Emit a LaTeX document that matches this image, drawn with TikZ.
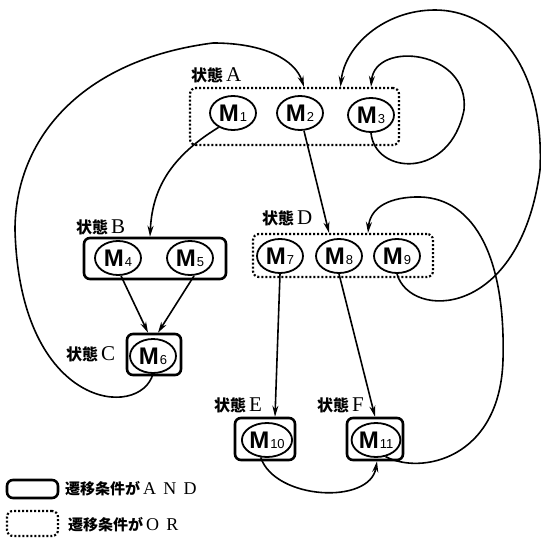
\documentclass[tikz,border=0pt]{standalone}
\usepackage{fontspec}
\usetikzlibrary{shapes,arrows.meta}
\newfontfamily\cjk{Noto Sans CJK JP}
\newfontfamily\msans{Liberation Sans}
\newfontfamily\lserif{Liberation Serif}
\newfontfamily\wideserif{Liberation Serif}[LetterSpace=40]

\newcommand{\mlab}[1]{{\msans\bfseries\fontsize{24}{24}\selectfont M}\hspace{1pt}{\msans\fontsize{13}{13}\selectfont #1}}
\newcommand{\stlab}[1]{{\cjk\bfseries\fontsize{16}{16}\selectfont 状態}\hspace{3pt}{\lserif\fontsize{21}{21}\selectfont #1}}

\tikzset{
  mnode/.style={ellipse, draw, line width=1.8pt, minimum width=46pt, minimum height=34pt, inner sep=0pt},
  andbox/.style={draw, line width=2.6pt, rounded corners=6pt, inner sep=0pt},
  orbox/.style={draw, line width=2.2pt, dash pattern=on 2pt off 2pt, rounded corners=6pt, inner sep=0pt},
  trans/.style={line width=1.6pt, -{Stealth[length=11pt,width=6pt]}},
  stname/.style={anchor=west, inner sep=0pt},
  legtext/.style={anchor=west, inner sep=0pt, font=\cjk\bfseries\fontsize{15}{15}\selectfont}
}

\begin{document}
\begin{tikzpicture}[x=1pt,y=-1pt]
            \useasboundingbox (0,0) rectangle (541,538);

            % state boxes
            \node[orbox, minimum width=209pt, minimum height=57pt] (A) at (294.5,116.5) {};
            \node[andbox, minimum width=142pt, minimum height=41pt] (B) at (155,258.5) {};
            \node[andbox, minimum width=54pt, minimum height=41pt] (C) at (154,354.5) {};
            \node[orbox, minimum width=180pt, minimum height=43pt] (D) at (343,255.5) {};
            \node[andbox, minimum width=60pt, minimum height=42pt] (E) at (265,439) {};
            \node[andbox, minimum width=56pt, minimum height=42pt] (F) at (375,439) {};

            % state names
            \node[stname] (nA) at (191,75) {\stlab{A}};
            \node[stname] (nB) at (76,227) {\stlab{B}};
            \node[stname] (nC) at (66,354) {\stlab{C}};
            \node[stname] (nD) at (262,218) {\stlab{D}};
            \node[stname] (nE) at (214,405) {\stlab{E}};
            \node[stname] (nF) at (317,405) {\stlab{F}};

            % modules
            \foreach \n/\x/\y in {1/233/113, 2/300/113, 3/371/115, 4/118/258, 5/190/258,
                                  6/153/356, 7/280/256, 8/339/256, 9/397/256, 10/267/440, 11/376/440} {
                \node[mnode] (M\n) at (\x,\y) {\mlab{\n}};
            }

            % transitions
            \draw[trans] (M1.225) .. controls (165,160) and (152,195) .. ([xshift=-5pt]B.north);
            \draw[trans] ([xshift=4pt]M2.south) -- ([xshift=-14pt]D.north);
            \draw[trans] (M3.south) .. controls (375,175) and (450,180) .. (464,110)
                         .. controls (470,50) and (375,40) .. (A.north -| M3);
            \draw[trans] (M9.south) .. controls (410,320) and (520,320) .. (540,170)
                         .. controls (545,60) and (490,10) .. (435,10)
                         .. controls (385,10) and (345,45) .. ([xshift=46pt]A.north);
            \draw[trans] ([xshift=3pt]M4.south) -- ([xshift=-6pt]C.north);
            \draw[trans] ([xshift=4pt]M5.south) -- ([xshift=4pt]C.north);
            \draw[trans] (M6.south) .. controls (140,420) and (20,410) .. (15,230)
                         .. controls (15,140) and (80,60) .. (213,43)
                         .. controls (265,43) and (295,60) .. ([xshift=4pt]M2.north |- A.north);
            \draw[trans] (M7.south) -- ([xshift=10pt]E.north);
            \draw[trans] (M8.south) -- (F.north);
            \draw[trans] (M10.250) .. controls (275,500) and (370,505) .. ([xshift=2pt]F.south);
            \draw[trans] (M11.-60) .. controls (420,475) and (500,460) .. (503,360)
                         .. controls (506,250) and (470,195) .. (415,197)
                         .. controls (385,198) and (370,210) .. ([xshift=25pt]D.north);

            % legend
            \node[andbox, minimum width=51pt, minimum height=18pt] (andkey) at (32.5,489) {};
            \node[legtext] (andtext) at (65,489) {遷移条件が\hspace{3pt}{\wideserif\mdseries\fontsize{18}{18}\selectfont AND}};
            \node[orbox, minimum width=51pt, minimum height=25pt] (orkey) at (32.5,523.5) {};
            \node[legtext] (ortext) at (68,525) {遷移条件が\hspace{3pt}{\wideserif\mdseries\fontsize{18}{18}\selectfont OR}};
        \end{tikzpicture}
\end{document}
